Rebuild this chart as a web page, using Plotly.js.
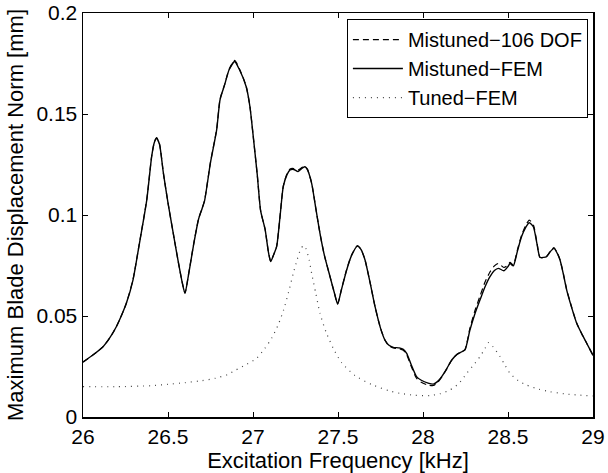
<!DOCTYPE html>
<html>
<head>
<meta charset="utf-8">
<script src="https://cdn.plot.ly/plotly-3.0.1.min.js"></script>
<style>html,body{margin:0;padding:0;background:#fff;}#chart{width:608px;height:473px;}</style>
</head>
<body>
<div id="chart"></div>
<script>
// Mistuned-FEM (solid)
const femFreq = [26.000,26.060,26.118,26.160,26.196,26.230,26.255,26.294,26.330,26.375,26.404,26.420,26.433,26.450,26.473,26.500,26.531,26.560,26.585,26.600,26.620,26.650,26.680,26.700,26.715,26.750,26.786,26.806,26.833,26.860,26.892,26.920,26.960,26.982,27.000,27.025,27.045,27.071,27.090,27.104,27.120,27.139,27.160,27.178,27.200,27.218,27.240,27.265,27.290,27.306,27.320,27.345,27.370,27.394,27.420,27.453,27.480,27.498,27.520,27.551,27.580,27.614,27.635,27.659,27.690,27.718,27.750,27.776,27.800,27.825,27.860,27.884,27.904,27.930,27.962,27.990,28.030,28.061,28.085,28.110,28.140,28.169,28.200,28.228,28.247,28.276,28.305,28.335,28.365,28.394,28.420,28.443,28.476,28.500,28.512,28.531,28.555,28.580,28.605,28.625,28.649,28.670,28.688,28.710,28.727,28.750,28.771,28.790,28.806,28.825,28.845,28.875,28.904,28.935,28.963,29.000];
const femVal = [0.0272,0.0308,0.0348,0.0395,0.0447,0.0510,0.0563,0.0678,0.0850,0.1074,0.1290,0.1360,0.1380,0.1350,0.1206,0.1060,0.0909,0.0770,0.0660,0.0612,0.0700,0.0850,0.0980,0.1030,0.1070,0.1260,0.1420,0.1570,0.1644,0.1720,0.1760,0.1720,0.1635,0.1536,0.1400,0.1200,0.1020,0.0930,0.0820,0.0769,0.0800,0.0843,0.1000,0.1140,0.1200,0.1223,0.1225,0.1215,0.1232,0.1239,0.1225,0.1157,0.1030,0.0909,0.0800,0.0695,0.0610,0.0559,0.0630,0.0728,0.0800,0.0846,0.0830,0.0777,0.0660,0.0546,0.0440,0.0381,0.0355,0.0345,0.0342,0.0335,0.0315,0.0260,0.0200,0.0182,0.0168,0.0163,0.0175,0.0200,0.0240,0.0282,0.0310,0.0323,0.0332,0.0430,0.0510,0.0579,0.0645,0.0695,0.0725,0.0736,0.0724,0.0745,0.0760,0.0748,0.0820,0.0893,0.0940,0.0962,0.0942,0.0860,0.0791,0.0790,0.0794,0.0820,0.0835,0.0810,0.0777,0.0710,0.0629,0.0540,0.0464,0.0410,0.0365,0.0305];

// Mistuned-106 DOF (dashed)
const romFreq = femFreq;
const romVal = [0.0272,0.0308,0.0348,0.0395,0.0447,0.0510,0.0563,0.0680,0.0852,0.1076,0.1292,0.1362,0.1383,0.1352,0.1207,0.1060,0.0909,0.0770,0.0661,0.0614,0.0702,0.0852,0.0982,0.1032,0.1072,0.1262,0.1423,0.1573,0.1646,0.1722,0.1765,0.1724,0.1637,0.1537,0.1400,0.1200,0.1020,0.0930,0.0821,0.0771,0.0801,0.0845,0.1002,0.1143,0.1204,0.1228,0.1230,0.1222,0.1236,0.1242,0.1227,0.1158,0.1030,0.0909,0.0800,0.0695,0.0610,0.0560,0.0631,0.0730,0.0802,0.0848,0.0831,0.0777,0.0660,0.0546,0.0440,0.0381,0.0353,0.0342,0.0338,0.0330,0.0308,0.0252,0.0192,0.0172,0.0158,0.0156,0.0170,0.0197,0.0238,0.0281,0.0310,0.0324,0.0334,0.0440,0.0525,0.0598,0.0668,0.0718,0.0748,0.0760,0.0740,0.0752,0.0765,0.0752,0.0826,0.0900,0.0950,0.0975,0.0952,0.0865,0.0790,0.0788,0.0795,0.0822,0.0838,0.0812,0.0778,0.0712,0.0632,0.0542,0.0465,0.0410,0.0365,0.0305];

// Tuned-FEM (dotted)
const tunedFreq = [26.00,26.20,26.40,26.50,26.60,26.70,26.78,26.85,26.90,26.95,27.02,27.07,27.11,27.15,27.18,27.21,27.237,27.26,27.28,27.296,27.31,27.33,27.345,27.37,27.394,27.43,27.472,27.52,27.60,27.70,27.80,27.865,27.95,28.04,28.10,28.159,28.21,28.257,28.30,28.335,28.365,28.384,28.41,28.453,28.48,28.512,28.56,28.61,28.68,28.747,28.85,29.00];
const tunedVal = [0.0150,0.0150,0.0155,0.0162,0.0170,0.0180,0.0192,0.0210,0.0233,0.0255,0.0290,0.0340,0.0390,0.0460,0.0530,0.0620,0.0711,0.0780,0.0830,0.0848,0.0835,0.0780,0.0711,0.0610,0.0513,0.0420,0.0340,0.0270,0.0205,0.0160,0.0130,0.0117,0.0108,0.0106,0.0115,0.0134,0.0165,0.0216,0.0260,0.0299,0.0340,0.0368,0.0350,0.0299,0.0260,0.0216,0.0180,0.0158,0.0138,0.0125,0.0113,0.0104];

const xTitle = 'Excitation Frequency [kHz]';
const yTitle = 'Maximum Blade Displacement Norm [mm]';
const names = ['Mistuned\u2212106 DOF','Mistuned\u2212FEM','Tuned\u2212FEM'];

const FONT = 'Liberation Sans, Arial, Helvetica, sans-serif';

const traces = [
  {x: romFreq, y: romVal, name: names[0], mode: 'lines', line: {color: '#000', width: 1.2, dash: '6px,4px', shape: 'spline', smoothing: 0.6}},
  {x: femFreq, y: femVal, name: names[1], mode: 'lines', line: {color: '#000', width: 1.4, shape: 'spline', smoothing: 0.6}},
  {x: tunedFreq, y: tunedVal, name: names[2], mode: 'lines', line: {color: '#444', width: 1.2, dash: '1px,5px', shape: 'spline', smoothing: 0.6}}
];

const axisCommon = {
  showline: true, linecolor: '#000', linewidth: 1.5, mirror: 'ticks',
  ticks: 'inside', ticklen: 5, tickcolor: '#000', tickwidth: 1,
  showgrid: false, zeroline: false,
  tickfont: {family: FONT, size: 21, color: '#000'}
};

const layout = {
  width: 608, height: 473,
  margin: {l: 83, r: 15, t: 13, b: 56},
  paper_bgcolor: '#fff', plot_bgcolor: '#fff',
  font: {family: FONT, color: '#000'},
  showlegend: true,
  legend: {
    x: 0.99, xanchor: 'right', y: 0.985, yanchor: 'top',
    bgcolor: '#fff', bordercolor: '#000', borderwidth: 1,
    font: {family: FONT, size: 20, color: '#000'},
    itemwidth: 50,
    tracegroupgap: 0
  },
  xaxis: Object.assign({}, axisCommon, {
    range: [26, 29], dtick: 0.5, tick0: 26,
    title: {text: xTitle, font: {family: FONT, size: 22, color: '#000'}, standoff: 0}
  }),
  yaxis: Object.assign({}, axisCommon, {
    range: [0, 0.2], dtick: 0.05, tick0: 0,
    title: {text: yTitle, font: {family: FONT, size: 22, color: '#000'}, standoff: 6}
  })
};

Plotly.newPlot('chart', traces, layout, {displayModeBar: false, staticPlot: true});
</script>
</body>
</html>
